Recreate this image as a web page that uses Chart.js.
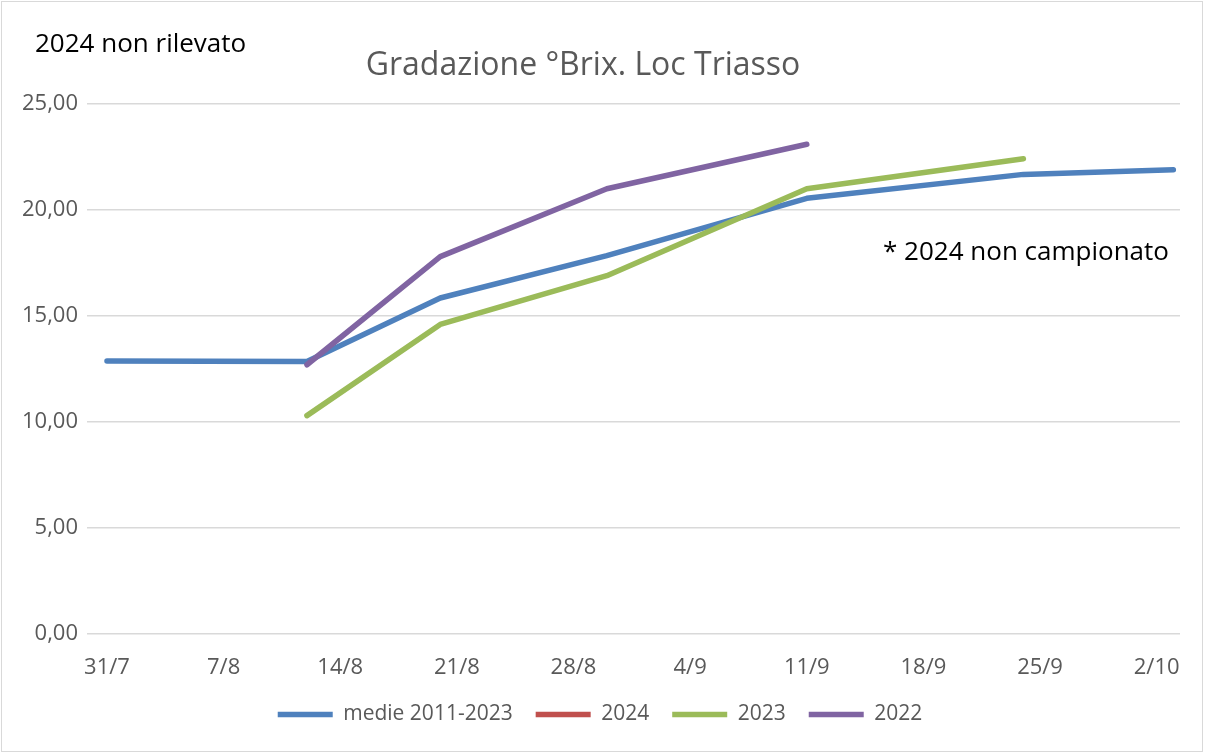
<!DOCTYPE html>
<html>
<head>
<meta charset="utf-8">
<script src="https://cdn.jsdelivr.net/npm/chart.js@4.4.1/dist/chart.umd.min.js"></script>
<style>
  html, body { margin: 0; padding: 0; background: #ffffff; }
  #wrap { width: 1205px; height: 754px; position: relative; }
  canvas { display: block; }
</style>
</head>
<body>
<div id="wrap"><canvas id="c" width="1205" height="754"></canvas></div>
<script>
// ---- data (days counted from 31/7) ----
const tickLabels = ['31/7', '7/8', '14/8', '21/8', '28/8', '4/9', '11/9', '18/9', '25/9', '2/10'];
const seriesNames = ['medie 2011-2023', '2024', '2023', '2022'];
const daysMedie = [0, 12, 20, 30, 42, 55, 64];
const valMedie = [12.88, 12.85, 15.85, 17.85, 20.55, 21.68, 21.9];
const days2024 = [];
const val2024 = [];
const days2023 = [12, 20, 30, 42, 55];
const val2023 = [10.3, 14.6, 16.9, 21.0, 22.42];
const days2022 = [12, 20, 30, 42];
const val2022 = [12.7, 17.8, 21.0, 23.1];
const titleText = 'Gradazione °Brix. Loc Triasso';
const noteTop = '2024 non rilevato';
const noteRight = '* 2024 non campionato';

const FONT = "'Open Sans', sans-serif";
const GREY = '#595959';

function pts(days, vals) { return days.map((d, i) => ({ x: d, y: vals[i] })); }

const colors = ['#4F81BD', '#C0504D', '#9BBB59', '#8064A2'];
const seriesData = [pts(daysMedie, valMedie), pts(days2024, val2024), pts(days2023, val2023), pts(days2022, val2022)];

const datasets = seriesNames.map((name, i) => ({
  label: name,
  data: seriesData[i],
  borderColor: colors[i],
  backgroundColor: colors[i],
  borderWidth: 5.5,
  borderCapStyle: 'round',
  borderJoinStyle: 'round',
  pointRadius: 0,
  pointHoverRadius: 0,
  tension: 0,
  fill: false,
  order: seriesNames.length - i
}));

const decor = {
  id: 'decor',
  afterLayout(chart) {
    // shift the legend block slightly right, as in the reference
    if (chart.legend) { chart.legend.left += 10; chart.legend.right += 10; }
  },
  afterDraw(chart) {
    const ctx = chart.ctx;
    ctx.save();
    ctx.strokeStyle = '#D9D9D9';
    ctx.lineWidth = 1;
    ctx.strokeRect(1.5, 1.5, 1201, 750);
    ctx.textBaseline = 'middle';
    ctx.fillStyle = GREY;
    ctx.font = '32px ' + FONT;
    ctx.textAlign = 'center';
    ctx.fillText(titleText, 583, 66);
    ctx.fillStyle = '#000000';
    ctx.font = '26px ' + FONT;
    ctx.textAlign = 'left';
    ctx.fillText(noteTop, 35, 45);
    ctx.fillText(noteRight, 883, 253);
    ctx.restore();
  }
};

new Chart(document.getElementById('c'), {
  type: 'line',
  data: { datasets },
  options: {
    responsive: false,
    animation: false,
    devicePixelRatio: 1,
    layout: { padding: { top: 104, right: 25, left: 0, bottom: 19 } },
    plugins: {
      title: { display: false },
      tooltip: { enabled: false },
      legend: {
        position: 'bottom',
        labels: {
          usePointStyle: true,
          pointStyle: 'line',
          pointStyleWidth: 55,
          boxHeight: 22,
          padding: 23,
          color: GREY,
          font: { family: FONT, size: 21 },
          sort: (a, b) => a.datasetIndex - b.datasetIndex
        }
      }
    },
    scales: {
      x: {
        type: 'linear',
        min: -1.2,
        max: 64.4,
        grid: { display: false, drawTicks: false },
        border: { display: false },
        afterFit(scale) { scale.height = 47; },
        ticks: {
          stepSize: 7,
          includeBounds: false,
          autoSkip: false,
          maxRotation: 0,
          padding: 21,
          color: GREY,
          font: { family: FONT, size: 22 },
          callback: (v) => tickLabels[Math.round(v / 7)] ?? ''
        }
      },
      y: {
        min: 0,
        max: 25,
        grid: { color: '#D9D9D9', lineWidth: 1.5, drawTicks: false },
        border: { display: false },
        afterFit(scale) { scale.width = 87; },
        ticks: {
          stepSize: 5,
          padding: 9,
          color: GREY,
          font: { family: FONT, size: 22 },
          callback: (v) => v.toFixed(2).replace('.', ',')
        }
      }
    }
  },
  plugins: [decor]
});
</script>
</body>
</html>
